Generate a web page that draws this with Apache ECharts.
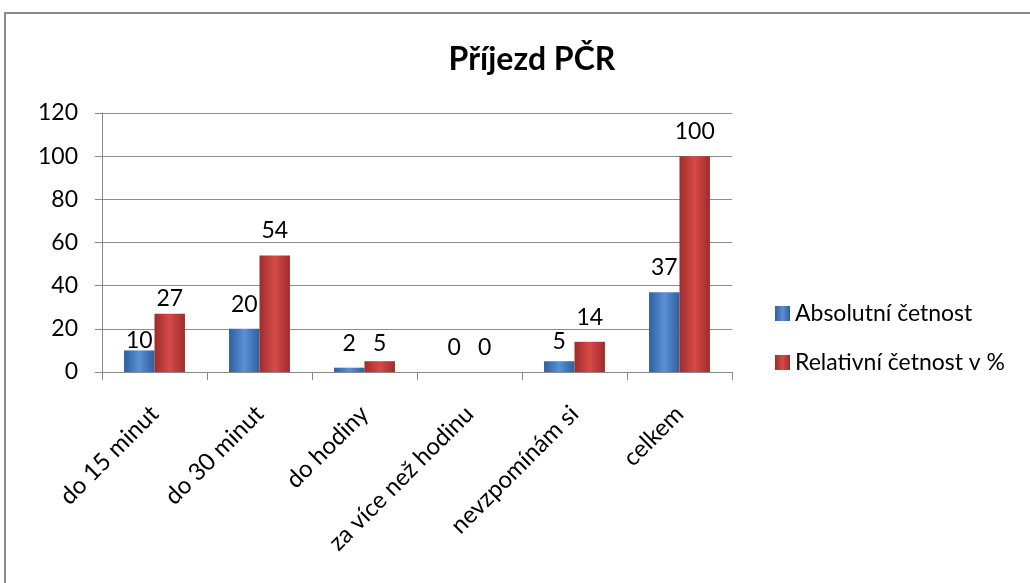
<!DOCTYPE html>
<html><head><meta charset="utf-8">
<script src="https://cdn.jsdelivr.net/npm/echarts@6/dist/echarts.min.js"></script>
<style>html,body{margin:0;padding:0;background:#fff}#c{width:1030px;height:583px}</style>
</head><body><div id="c"></div>
<script>
var categories = ['do 15 minut','do 30 minut','do hodiny','za více než hodinu','nevzpomínám si','celkem'];
var absolutni = [10,20,2,0,5,37];
var relativni = [27,54,5,0,14,100];
var seriesNames = ['Absolutní četnost','Relativní četnost v %'];
var yTicks = [0,20,40,60,80,100,120];

var FONT = 'Lato, "Open Sans", sans-serif';
// label gap tweaks (style only) per category index
var absLabelDist = [-2,13,13,13,8,13];
var relLabelDist = [4,13,6,13,13,13];
function grad(edge, mid){
  return new echarts.graphic.LinearGradient(0,0,1,0,[
    {offset:0,color:edge},{offset:0.5,color:mid},{offset:1,color:edge}]);
}
function withDist(vals, dists){
  return vals.map(function(v,i){ return {value:v,label:{distance:dists[i]}}; });
}
var chart = echarts.init(document.getElementById('c'));
chart.setOption({
  animation:false,
  title:{text:'Příjezd PČR',left:527,textAlign:'center',top:39,textStyle:{fontFamily:FONT,fontSize:32,fontWeight:'bold',color:'#000'}},
  graphic:[{type:'rect',shape:{x:5,y:13,width:1100,height:700},style:{fill:'none',stroke:'#8a8a8a',lineWidth:2},silent:true}],
  legend:{orient:'vertical',left:770,top:297,itemGap:26,itemWidth:15,itemHeight:15,icon:'rect',
    textStyle:{fontFamily:FONT,fontSize:23,color:'#000'},data:seriesNames},
  grid:{left:102,right:298,top:113,bottom:211,containLabel:false},
  xAxis:{type:'category',data:categories,
    axisLine:{lineStyle:{color:'#888'}},
    axisTick:{show:true,alignWithLabel:false,length:8,lineStyle:{color:'#888'}},
    axisLabel:{rotate:45,margin:38,interval:0,fontFamily:FONT,fontSize:24,color:'#000'}},
  yAxis:{type:'value',min:yTicks[0],max:yTicks[yTicks.length-1],interval:yTicks[1]-yTicks[0],
    axisLine:{show:true,lineStyle:{color:'#888'}},
    axisTick:{show:true,length:7,lineStyle:{color:'#888'}},
    splitLine:{lineStyle:{color:'#8c8c8c'}},
    axisLabel:{margin:24,fontFamily:FONT,fontSize:23,color:'#000'}},
  series:[
    {name:seriesNames[0],type:'bar',data:withDist(absolutni,absLabelDist),barGap:'0%',barCategoryGap:'42%',
      itemStyle:{color:grad('#2f5f9e','#5a90d6')},
      label:{show:true,position:'top',fontFamily:FONT,fontSize:23,color:'#000'}},
    {name:seriesNames[1],type:'bar',data:withDist(relativni,relLabelDist),
      itemStyle:{color:grad('#9e2c2c','#d64a48')},
      label:{show:true,position:'top',fontFamily:FONT,fontSize:23,color:'#000'}}
  ]
});
</script></body></html>
